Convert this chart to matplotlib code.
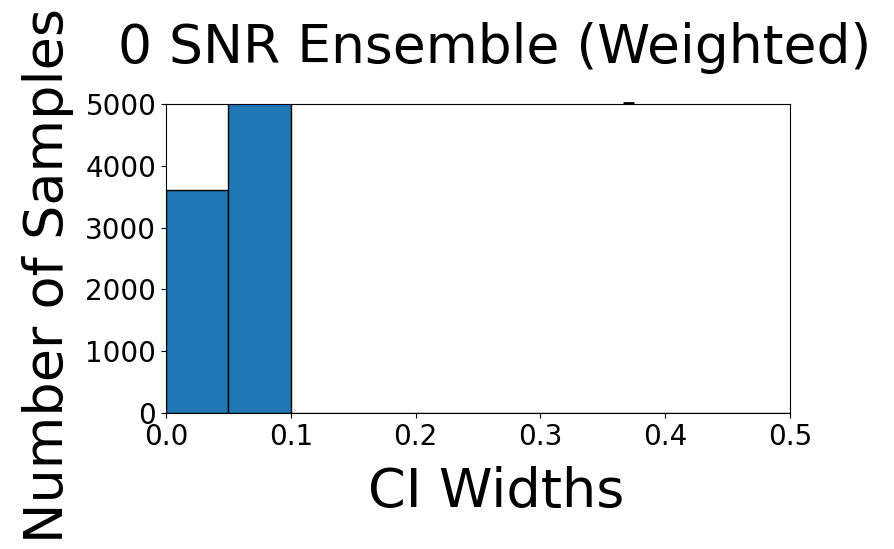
import numpy as np
import matplotlib
matplotlib.use('Agg')
import matplotlib.pyplot as plt

# histogram of CI widths (counts, second bin is clipped at 5000)
bin_edges = [0.0, 0.05, 0.1, 0.15, 0.2, 0.25, 0.3, 0.35, 0.4, 0.45, 0.5]
counts = [3610, 6400, 0, 0, 0, 0, 0, 0, 0, 0]
# small mark sitting just on top of the top spine
mark_x = [0.366, 0.375]
mark_y = [5024, 5024]

x_ticks = [0.0, 0.1, 0.2, 0.3, 0.4, 0.5]
y_ticks = [0, 1000, 2000, 3000, 4000, 5000]

fig = plt.figure(figsize=(8.94, 5.49), dpi=100)
ax = fig.add_axes([166 / 894, 1 - 413 / 549, (790 - 166) / 894, (413 - 104) / 549])

ax.hist(bin_edges[:-1], bins=bin_edges, weights=counts, color='#1f77b4', edgecolor='black', linewidth=1)
ax.plot(mark_x, mark_y, color='black', linewidth=2, solid_capstyle='butt', clip_on=False)

ax.set_xlim(0, 0.5)
ax.set_ylim(0, 5000)
ax.set_xticks(x_ticks)
ax.set_yticks(y_ticks)
ax.tick_params(labelsize=20)

# labels sit a little off the axes centre in the original, so place them by hand
ax.set_title('0 SNR Ensemble (Weighted)', fontsize=38.5, x=0.526, y=1.105, va='baseline')
ax.set_xlabel('CI Widths', fontsize=39, va='baseline')
ax.xaxis.set_label_coords(0.529, -0.304)
ax.set_ylabel('Number of Samples', fontsize=39, rotation_mode='anchor', ha='center', va='baseline')
ax.yaxis.set_label_coords(-0.165, 0.4466)

fig.savefig('out.png', dpi=100)
